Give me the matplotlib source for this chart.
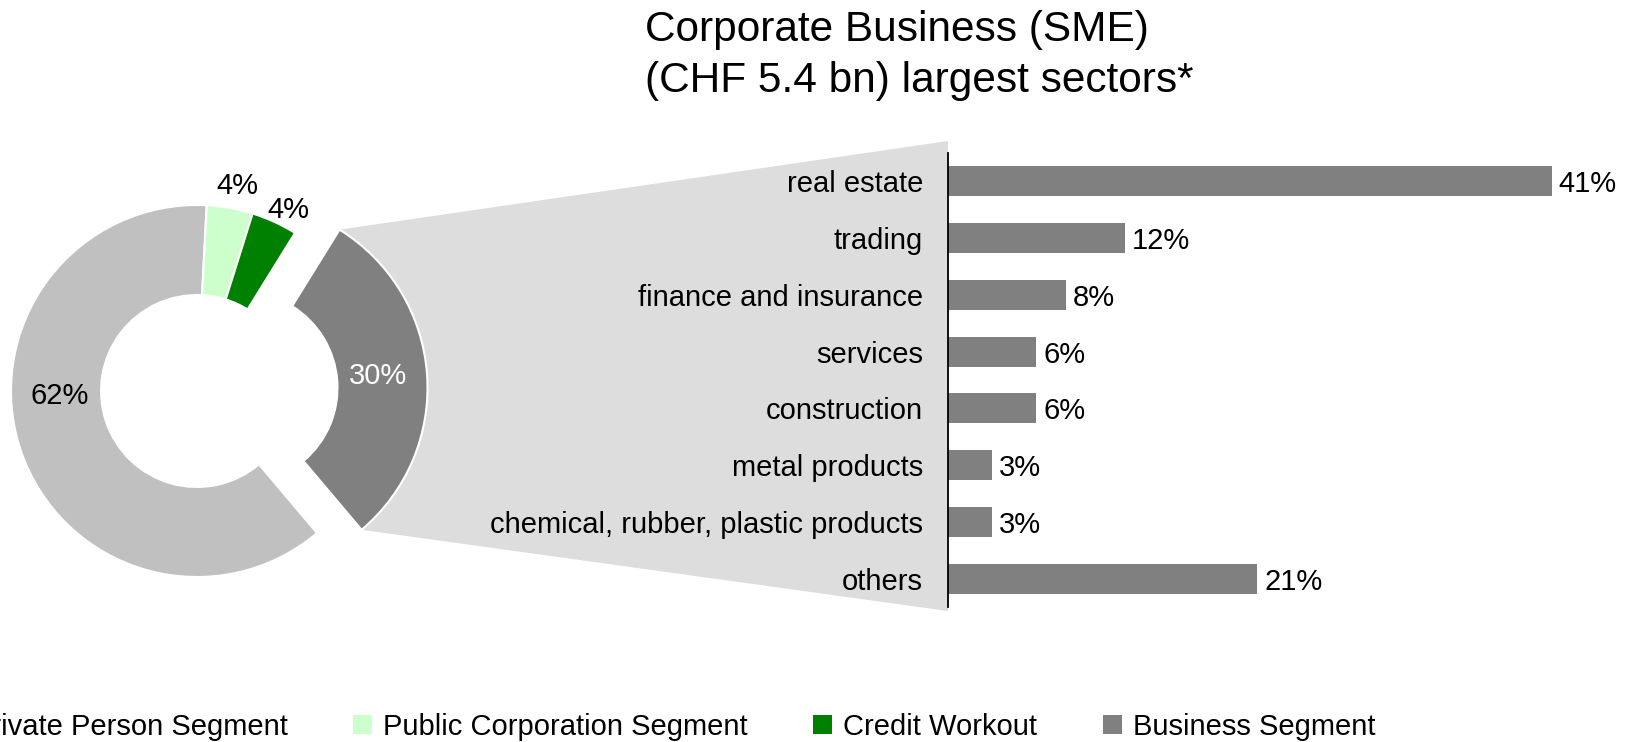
import matplotlib.pyplot as plt
from matplotlib.patches import Patch, Polygon
import numpy as np

plt.rcParams['font.family'] = ['Liberation Sans', 'DejaVu Sans']

# portfolio split by segment (share of loans, %)
segments = ["Private Person Segment", "Public Corporation Segment",
            "Credit Workout", "Business Segment"]
segment_share = [62, 4, 4, 30]
segment_colors = ["#c0c0c0", "#ccffcc", "#008000", "#808080"]

# largest sectors inside the business segment (%)
sectors = ["real estate", "trading", "finance and insurance", "services",
           "construction", "metal products",
           "chemical, rubber, plastic products", "others"]
sector_share = [41, 12, 8, 6, 6, 3, 3, 21]

title_lines = ["Corporate Business (SME)", "(CHF 5.4 bn) largest sectors*"]

W, H = 1632, 742
fig = plt.figure(figsize=(W / 100, H / 100), dpi=100)

# --- donut ---
cx, cy, rpx = 197, H - 391, 186
half = 1.3 * rpx
ax_pie = fig.add_axes([(cx - half) / W, (cy - half) / H, 2 * half / W, 2 * half / H])
start = 87 + 360 * segment_share[0] / sum(segment_share)
wedges, _ = ax_pie.pie(segment_share, colors=segment_colors, startangle=start,
                       counterclock=False, explode=[0, 0, 0, 0.24], radius=1,
                       wedgeprops=dict(width=0.484, edgecolor="white", linewidth=1.5))
ax_pie.set_xlim(-1.3, 1.3)
ax_pie.set_ylim(-1.3, 1.3)
ax_pie.set_aspect("equal")

label_pos = [(-0.737, -0.011), (0.215, 1.118), (0.489, 0.989), (0.973, 0.097)]
label_col = ["black", "black", "black", "white"]
for v, (x, y), c in zip(segment_share, label_pos, label_col):
    ax_pie.text(x, y, f"{v}%", ha="center", va="center_baseline", fontsize=21, color=c)

# --- sector bars ---
bar_left, bar_top, bar_bot = 948, 152.6, 607.4
ax_bar = fig.add_axes([bar_left / W, (H - bar_bot) / H, 1 - bar_left / W,
                       (bar_bot - bar_top) / H])
ax_bar.patch.set_visible(False)
ypos = np.arange(len(sectors))
ax_bar.barh(ypos, sector_share, height=0.53, color="#808080")
for y, v in zip(ypos, sector_share):
    ax_bar.annotate(f"{v}%", (v, y), xytext=(5, 0), textcoords="offset points",
                    ha="left", va="center_baseline", fontsize=21)
ax_bar.set_xlim(0, (W - bar_left) / 14.72)
ax_bar.set_ylim(len(sectors) - 0.5, -0.5)
ax_bar.set_yticks(ypos)
ax_bar.set_yticklabels(sectors, fontsize=21)
ax_bar.tick_params(axis="y", length=0, pad=18)
ax_bar.set_xticks([])
for side in ["top", "right", "bottom"]:
    ax_bar.spines[side].set_visible(False)
ax_bar.spines["left"].set_linewidth(1.3)

# --- grey funnel from the exploded slice to the bar axis ---
ax_pie.apply_aspect()
w = wedges[3]
wx, wy = w.center
t1, t2 = np.radians(w.theta1), np.radians(w.theta2)
to_fig = fig.transFigure.inverted()
p_top = to_fig.transform(ax_pie.transData.transform((wx + w.r * np.cos(t2), wy + w.r * np.sin(t2))))
p_bot = to_fig.transform(ax_pie.transData.transform((wx + w.r * np.cos(t1), wy + w.r * np.sin(t1))))
q_top = to_fig.transform(ax_bar.transAxes.transform((0, 1.0255)))
q_bot = to_fig.transform(ax_bar.transAxes.transform((0, -0.008)))
funnel = Polygon([p_top, q_top, q_bot, p_bot], closed=True, facecolor="#dddddd",
                 edgecolor="none", transform=fig.transFigure, zorder=-1)
fig.patches.append(funnel)

# two-line heading, one baseline per line
for line, base in zip(title_lines, [41, 92]):
    fig.text(645 / W, 1 - base / H, line, ha="left", va="baseline", fontsize=30.5)

handles = [Patch(facecolor=c, edgecolor="none") for c in segment_colors]
fig.legend(handles, segments, loc="center", bbox_to_anchor=(0.4035, 1 - 727 / H),
           ncol=4, frameon=False, fontsize=21, handlelength=0.65, handleheight=0.65,
           handletextpad=0.38, columnspacing=2.25)

fig.savefig("out.png", dpi=100)
